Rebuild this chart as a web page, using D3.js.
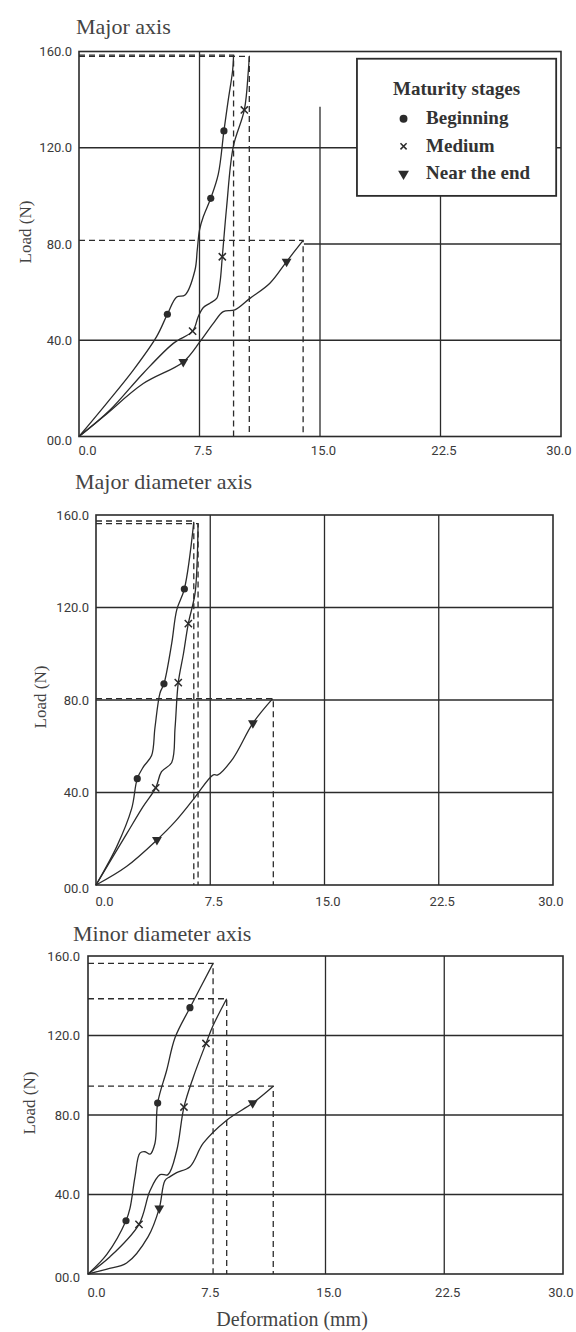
<!DOCTYPE html>
<html><head><meta charset="utf-8">
<script src="https://cdn.jsdelivr.net/npm/d3@7"></script>
<style>body{margin:0;background:#fff}</style>
</head><body>
<svg id="c" width="576" height="1332"></svg>
<script>
// ---------- DATA ----------
const xTicks = [0, 7.5, 15, 22.5, 30];
const xTickLabels = ["0.0", "7.5", "15.0", "22.5", "30.0"];
const yTicks = [0, 40, 80, 120, 160];
const yTickLabels = ["00.0", "40.0", "80.0", "120.0", "160.0"];
const seriesNames = ["Beginning", "Medium", "Near the end"];
const panelTitles = ["Major axis", "Major diameter axis", "Minor diameter axis"];

// Major axis
const majorBeginning = [[0,0],[1.72,13.8],[3.38,27.6],[4.83,41.5],[5.5,50.8],[6.08,58],[6.6,58.8],[7.22,69.2],[7.36,77.5],[7.5,85.8],[7.74,91.4],[8.2,99],[8.67,109],[9.02,127],[9.29,139.9],[9.56,152],[9.62,158.5]];
const majorMedium = [[0,0],[1.93,11],[4.0,26.3],[5.87,38.7],[7.07,43.8],[7.42,49.8],[7.74,53.6],[8.15,55.4],[8.57,57.4],[8.77,63.7],[8.92,74.7],[9.19,95.5],[9.6,120.4],[10.29,135.7],[10.54,152],[10.6,158]];
const majorNearEnd = [[0,0],[1.51,8.2],[4.0,22],[6.49,31],[7.53,39.4],[8.36,47],[8.98,51.9],[9.7,52.6],[10.64,57.4],[11.88,63.7],[12.92,72.7],[13.95,81.5]];
const majorMarks = [[[5.5,50.8],[8.2,99],[9.02,127]], [[7.07,43.8],[8.92,74.7],[10.29,135.7]], [[6.49,31],[12.92,72.7]]];
const majorPeaks = [[9.62,158.5],[10.6,158],[13.95,81.5]];

// Major diameter axis
const majDiamBeginning = [[0,0],[1.36,16.6],[2.34,33],[2.71,46],[3.1,51],[3.65,56],[3.87,68],[4.2,83],[4.46,87],[4.97,104.5],[5.3,119],[5.8,128],[6.42,157]];
const majDiamMedium = [[0,0],[2.0,22],[3.1,34],[3.92,42],[4.3,49],[4.97,53],[5.19,68],[5.4,87.5],[5.74,100],[6.06,113],[6.5,126],[6.64,140],[6.7,156.3]];
const majDiamNearEnd = [[0,0],[2.0,8],[4.0,19.5],[5.19,27.4],[6.39,37],[7.7,47.6],[8.0,47.6],[9.0,54.8],[10.3,70],[11.6,80.6]];
const majDiamMarks = [[[2.71,46],[4.46,87],[5.8,128]], [[3.92,42],[5.4,87.5],[6.06,113]], [[4.0,19.5],[10.3,70]]];
const majDiamPeaks = [[6.42,157.4],[6.7,156.3],[11.64,80.6]];

// Minor diameter axis
const minDiamBeginning = [[0,0],[1.2,10],[2.4,26.8],[2.65,33],[2.97,49],[3.28,60.8],[3.6,61.5],[3.92,60.3],[4.23,65.8],[4.4,86],[4.97,102.5],[5.5,119],[6.44,134],[7.9,156.3]];
const minDiamMedium = [[0,0],[1.39,8.7],[3.22,25],[3.92,42],[4.55,50],[5.05,50],[5.6,62],[6.06,84],[6.65,99],[7.45,116],[7.9,125],[8.76,138.5]];
const minDiamNearEnd = [[0,0],[1.2,2.5],[2.44,5.5],[3.8,18.8],[4.5,33],[4.86,47],[5.18,49],[5.6,51],[6.44,54],[7.28,65.8],[8.76,77.4],[10.4,86],[11.7,94.5]];
const minDiamMarks = [[[2.4,26.8],[4.4,86],[6.44,134]], [[3.22,25],[6.06,84],[7.45,116]], [[4.5,33],[10.4,86]]];
const minDiamPeaks = [[7.9,156.3],[8.76,138.5],[11.7,94.5]];

// gridlines: [value, from, to] in data units
const majorHGrid = [[40,0,30],[80,14,30],[120,0,30]];
const majorVGrid = [[7.5,0,160],[15,0,137],[22.5,0,100]];
const majDiamHGrid = [[40,0,30],[80,0,30],[120,0,30]];
const majDiamVGrid = [[7.5,0,160],[15,0,160],[22.5,0,160]];
const minDiamHGrid = [[40,0,30],[80,0,30],[120,0,30]];
const minDiamVGrid = [[15,0,160],[22.5,0,160]];

// ---------- LAYOUT ----------
const ink = "#2b2b2b", txt = "#3a3a3a";
const panels = [
  {title: panelTitles[0], tx: 76, ty: 34, L: 79, R: 561, B: 436.5, T: 51.5, ylx: 25, yly: 232, yTickR: 72, xTickY: 451,
   series: [majorBeginning, majorMedium, majorNearEnd], marks: majorMarks, peaks: majorPeaks, hg: majorHGrid, vg: majorVGrid, legend: true},
  {title: panelTitles[1], tx: 75, ty: 489, L: 96, R: 553, B: 885, T: 515, ylx: 40, yly: 697, yTickR: 89, xTickY: 902,
   series: [majDiamBeginning, majDiamMedium, majDiamNearEnd], marks: majDiamMarks, peaks: majDiamPeaks, hg: majDiamHGrid, vg: majDiamVGrid},
  {title: panelTitles[2], tx: 73, ty: 941, L: 88, R: 563, B: 1274, T: 956, ylx: 29, yly: 1103, yTickR: 80, xTickY: 1293,
   series: [minDiamBeginning, minDiamMedium, minDiamNearEnd], marks: minDiamMarks, peaks: minDiamPeaks, hg: minDiamHGrid, vg: minDiamVGrid, xlabel: "Deformation (mm)"}
];

const svg = d3.select("#c");

function drawMarker(g, type, x, y, s) {
  if (type === 0) {
    g.append("circle").attr("cx", x).attr("cy", y).attr("r", 3.6 * s).attr("fill", ink);
  } else if (type === 1) {
    const d = 3.6 * s;
    g.append("path").attr("d", `M${x-d},${y-d}L${x+d},${y+d}M${x+d},${y-d}L${x-d},${y+d}`)
      .attr("stroke", ink).attr("stroke-width", 1.5);
  } else {
    g.append("path").attr("d", d3.symbol(d3.symbolTriangle, 42 * s * s)())
      .attr("transform", `translate(${x},${y}) rotate(180)`).attr("fill", ink);
  }
}

panels.forEach((p, pi) => {
  const x = d3.scaleLinear().domain([0, 30]).range([p.L, p.R]);
  const y = d3.scaleLinear().domain([0, 160]).range([p.B, p.T]);
  const g = svg.append("g");

  // title
  g.append("text").attr("x", p.tx).attr("y", p.ty).text(p.title)
    .attr("font-family", "Liberation Serif, serif").attr("font-size", 22).attr("fill", "#444");

  // gridlines
  p.hg.forEach(([v, a, b]) => g.append("line").attr("x1", x(a)).attr("x2", x(b)).attr("y1", y(v)).attr("y2", y(v))
    .attr("stroke", ink).attr("stroke-width", 1.3));
  p.vg.forEach(([v, a, b]) => g.append("line").attr("x1", x(v)).attr("x2", x(v)).attr("y1", y(a)).attr("y2", y(b))
    .attr("stroke", ink).attr("stroke-width", 1.3));

  // frame
  g.append("rect").attr("x", x(0)).attr("y", y(160)).attr("width", x(30) - x(0)).attr("height", y(0) - y(160))
    .attr("fill", "none").attr("stroke", ink).attr("stroke-width", 1.6);

  // axes (tick labels through d3 axis)
  const yAxis = d3.axisLeft(y).tickValues(yTicks).tickSize(0).tickPadding(0)
    .tickFormat((d, i) => yTickLabels[i]);
  const ya = g.append("g").attr("transform", `translate(${p.yTickR},0)`).call(yAxis);
  ya.select(".domain").remove();
  ya.selectAll("text").attr("font-family", "Roboto, sans-serif").attr("font-size", 13).attr("fill", txt)
    .attr("dy", (d) => d === 0 ? "0.6em" : "0.32em");

  const xAxis = d3.axisBottom(x).tickValues(xTicks).tickSize(0).tickPadding(0)
    .tickFormat((d, i) => xTickLabels[i]);
  const xa = g.append("g").attr("transform", `translate(0,${p.xTickY})`).call(xAxis);
  xa.select(".domain").remove();
  xa.selectAll("text").attr("font-family", "Roboto, sans-serif").attr("font-size", 13).attr("fill", txt)
    .attr("dy", "0.32em")
    .attr("text-anchor", (d) => d === 30 ? "end" : "middle")
    .attr("dx", (d) => d === 0 ? 8 : (d === 30 ? 10 : 3));

  // y label
  g.append("text").attr("transform", `translate(${p.ylx},${p.yly}) rotate(-90)`).attr("text-anchor", "middle")
    .attr("dy", "0.35em").text("Load (N)")
    .attr("font-family", "Liberation Serif, serif").attr("font-size", 17).attr("fill", "#444");

  // peak dashed lines
  p.peaks.forEach(([px, py]) => {
    g.append("path").attr("d", `M${x(0)},${y(py)}L${x(px)},${y(py)}L${x(px)},${y(0)}`)
      .attr("fill", "none").attr("stroke", ink).attr("stroke-width", 1.3).attr("stroke-dasharray", "6,4");
  });

  // curves
  const line = d3.line().x(d => x(d[0])).y(d => y(d[1])).curve(d3.curveCatmullRom.alpha(0.5));
  p.series.forEach(s => g.append("path").attr("d", line(s)).attr("fill", "none")
    .attr("stroke", ink).attr("stroke-width", 1.3));

  // markers
  p.marks.forEach((ms, si) => ms.forEach(([mx, my]) => drawMarker(g, si, x(mx), y(my), 1)));

  // legend
  if (p.legend) {
    g.append("rect").attr("x", x(17.3)).attr("y", y(157)).attr("width", x(29.7) - x(17.3)).attr("height", y(100) - y(157))
      .attr("fill", "#fff").attr("stroke", ink).attr("stroke-width", 1.8);
    g.append("text").attr("x", x(23.5)).attr("y", y(144.5)).attr("text-anchor", "middle").attr("dy", "0.35em")
      .text("Maturity stages").attr("font-family", "Liberation Serif, serif").attr("font-weight", "bold")
      .attr("font-size", 19).attr("fill", "#333");
    const rows = [132.5, 121, 109.6];
    seriesNames.forEach((n, i) => {
      drawMarker(g, i, x(20.2), y(rows[i]) + 1, i === 1 ? 0.85 : 1.1);
      g.append("text").attr("x", x(21.6)).attr("y", y(rows[i])).attr("dy", "0.35em").text(n)
        .attr("font-family", "Liberation Serif, serif").attr("font-weight", "bold")
        .attr("font-size", 19).attr("fill", "#333");
    });
  }

  if (p.xlabel) {
    g.append("text").attr("x", 292).attr("y", 1326).attr("text-anchor", "middle").text(p.xlabel)
      .attr("font-family", "Liberation Serif, serif").attr("font-size", 20).attr("fill", "#444");
  }
});
</script>
</body></html>
